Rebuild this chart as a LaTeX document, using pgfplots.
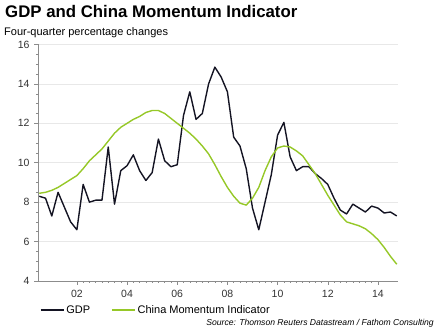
\documentclass[border=0pt]{standalone}
\usepackage{pgfplots}
\pgfplotsset{compat=1.18}
\usepackage{pgfplotstable}
\usepackage{fontspec}
\setmainfont{Liberation Sans}
\definecolor{gdpc}{RGB}{20,20,35}
\definecolor{cmic}{RGB}{150,200,40}
\definecolor{gridc}{RGB}{232,232,232}
\definecolor{axc}{RGB}{140,140,140}

\pgfplotstableread{
x y
2000.50 8.3
2000.75 8.2
2001.00 7.3
2001.25 8.5
2001.50 7.75
2001.75 7.0
2002.00 6.6
2002.25 8.9
2002.50 8.0
2002.75 8.1
2003.00 8.1
2003.25 10.8
2003.50 7.9
2003.75 9.6
2004.00 9.85
2004.25 10.4
2004.50 9.6
2004.75 9.1
2005.00 9.5
2005.25 11.2
2005.50 10.1
2005.75 9.8
2006.00 9.9
2006.25 12.4
2006.50 13.6
2006.75 12.2
2007.00 12.5
2007.25 14.0
2007.50 14.85
2007.75 14.35
2008.00 13.6
2008.25 11.3
2008.50 10.85
2008.75 9.7
2009.00 7.7
2009.25 6.6
2009.50 8.0
2009.75 9.4
2010.00 11.4
2010.25 12.05
2010.50 10.3
2010.75 9.6
2011.00 9.8
2011.25 9.8
2011.50 9.45
2011.75 9.2
2012.00 8.9
2012.25 8.2
2012.50 7.6
2012.75 7.4
2013.00 7.9
2013.25 7.7
2013.50 7.5
2013.75 7.8
2014.00 7.7
2014.25 7.45
2014.50 7.5
2014.75 7.3
}\gdp

\pgfplotstableread{
x y
2000.50 8.45
2000.75 8.5
2001.00 8.6
2001.25 8.75
2001.50 8.95
2001.75 9.15
2002.00 9.35
2002.25 9.7
2002.50 10.1
2002.75 10.4
2003.00 10.7
2003.25 11.1
2003.50 11.5
2003.75 11.8
2004.00 12.0
2004.25 12.2
2004.50 12.35
2004.75 12.55
2005.00 12.65
2005.25 12.65
2005.50 12.5
2005.75 12.25
2006.00 12.0
2006.25 11.75
2006.50 11.5
2006.75 11.2
2007.00 10.85
2007.25 10.45
2007.50 9.9
2007.75 9.3
2008.00 8.75
2008.25 8.3
2008.50 7.95
2008.75 7.85
2009.00 8.2
2009.25 8.75
2009.50 9.6
2009.75 10.3
2010.00 10.75
2010.25 10.85
2010.50 10.8
2010.75 10.6
2011.00 10.35
2011.25 9.9
2011.50 9.45
2011.75 8.9
2012.00 8.35
2012.25 7.85
2012.50 7.35
2012.75 7.0
2013.00 6.9
2013.25 6.8
2013.50 6.65
2013.75 6.4
2014.00 6.1
2014.25 5.7
2014.50 5.25
2014.75 4.85
}\cmi

\begin{document}
\begin{tikzpicture}[x=1pt,y=1pt]
\path (0,0) rectangle (443,328);
\node[anchor=base west,font=\fontsize{16.8}{19}\selectfont\bfseries,inner sep=0] at (5,310) {GDP and China Momentum Indicator};
\node[anchor=base west,font=\fontsize{11}{13}\selectfont,inner sep=0] at (4,292) {Four-quarter percentage changes};
\begin{axis}[
  at={(38pt,47pt)}, anchor=south west,
  scale only axis, width=360pt, height=236.5pt,
  xmin=2000.45, xmax=2014.8,
  ymin=4, ymax=16,
  axis x line*=bottom, axis y line*=left,
  axis line style={axc, line width=0.6pt},
  xtick={2002,2004,2006,2008,2010,2012,2014},
  xticklabels={02,04,06,08,10,12,14},
  minor x tick num=7,
  ytick={4,6,8,10,12,14,16},
  minor y tick num=3,
  tick align=outside,
  major tick length=4pt, minor tick length=2pt,
  tick style={axc, line width=0.5pt},
  every tick label/.append style={font=\fontsize{10.5}{12}\selectfont, text=black!80},
  /pgf/number format/assume math mode=true,
  xticklabel style={yshift=-2pt},
  yticklabel style={xshift=-1pt},
  ymajorgrids, grid style={gridc, line width=0.8pt},
  clip=false,
  legend columns=2,
  legend style={draw=none, fill=none, at={(0.005,-0.123)}, anchor=west,
    font=\fontsize{11}{13}\selectfont, inner sep=0pt,
    /tikz/every even column/.append style={column sep=19pt}},
  legend cell align=left,
  legend image code/.code={\draw[#1] (0pt,0pt) -- (23pt,0pt);},
]
\addplot[gdpc, line width=1.4pt, line join=round] table[x=x,y=y] {\gdp};
\addlegendentry{GDP}
\addplot[cmic, line width=1.4pt, line join=round] table[x=x,y=y] {\cmi};
\addlegendentry{China Momentum Indicator}
\end{axis}
\node[anchor=base east,font=\fontsize{8.6}{10}\selectfont\itshape,inner sep=0] at (434,2) {Source: Thomson Reuters Datastream / Fathom Consulting};
\end{tikzpicture}
\end{document}
